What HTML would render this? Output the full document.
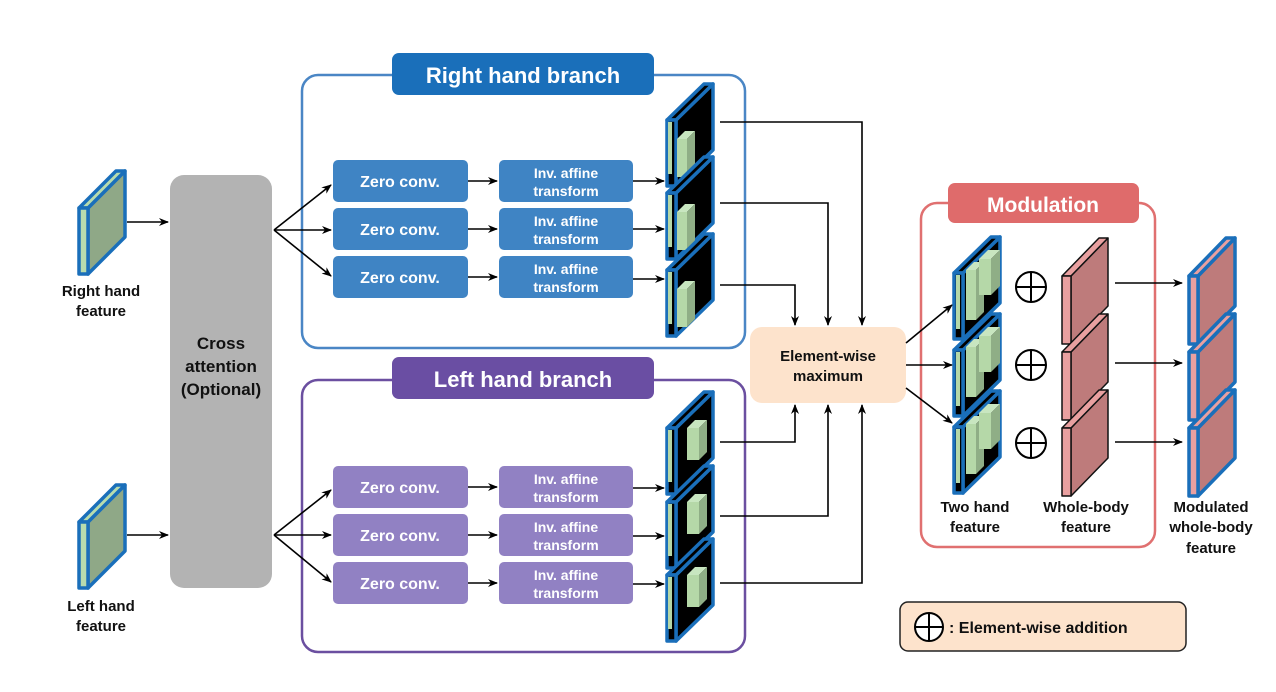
<!DOCTYPE html>
<html><head><meta charset="utf-8"><style>
html,body{margin:0;padding:0;background:#fff;}
svg text{font-family:"Liberation Sans",Arial,sans-serif;font-weight:bold;}
</style></head><body>
<svg id="s" width="1276" height="687" viewBox="0 0 1276 687" xmlns="http://www.w3.org/2000/svg">
<defs>
<marker id="ah" markerWidth="10" markerHeight="8" refX="9" refY="4" orient="auto" markerUnits="userSpaceOnUse">
<path d="M0,0 L10,4 L0,8 L3,4 Z" fill="#000"/></marker>
</defs>
<rect width="1276" height="687" fill="#fff"/>
<!-- cross attention -->
<rect x="170" y="175" width="102" height="413" rx="14" fill="#b3b3b3"/>
<text x="221" y="349" font-size="17" text-anchor="middle" fill="#111">Cross</text>
<text x="221" y="372" font-size="17" text-anchor="middle" fill="#111">attention</text>
<text x="221" y="395" font-size="17" text-anchor="middle" fill="#111">(Optional)</text>
<!-- branch frames -->
<rect x="302" y="75" width="443" height="273" rx="16" fill="none" stroke="#4a86c5" stroke-width="2.5"/>
<rect x="392" y="53" width="262" height="42" rx="7" fill="#1a6fba"/>
<text x="523" y="83" font-size="22" text-anchor="middle" fill="#fff">Right hand branch</text>
<rect x="302" y="380" width="443" height="272" rx="16" fill="none" stroke="#6b4fa0" stroke-width="2.5"/>
<rect x="392" y="357" width="262" height="42" rx="7" fill="#6a4ea3"/>
<text x="523" y="387" font-size="22" text-anchor="middle" fill="#fff">Left hand branch</text>
<!-- zero conv / inv affine -->
<g font-size="16" fill="#fff" text-anchor="middle">
<rect x="333" y="160" width="135" height="42" rx="5" fill="#3f84c4"/><text x="400" y="187">Zero conv.</text>
<rect x="333" y="208" width="135" height="42" rx="5" fill="#3f84c4"/><text x="400" y="235">Zero conv.</text>
<rect x="333" y="256" width="135" height="42" rx="5" fill="#3f84c4"/><text x="400" y="283">Zero conv.</text>
<rect x="333" y="466" width="135" height="42" rx="5" fill="#9181c3"/><text x="400" y="493">Zero conv.</text>
<rect x="333" y="514" width="135" height="42" rx="5" fill="#9181c3"/><text x="400" y="541">Zero conv.</text>
<rect x="333" y="562" width="135" height="42" rx="5" fill="#9181c3"/><text x="400" y="589">Zero conv.</text>
</g>
<g font-size="14" fill="#fff" text-anchor="middle">
<rect x="499" y="160" width="134" height="42" rx="5" fill="#3f84c4"/><text x="566" y="178">Inv. affine</text><text x="566" y="196">transform</text>
<rect x="499" y="208" width="134" height="42" rx="5" fill="#3f84c4"/><text x="566" y="226">Inv. affine</text><text x="566" y="244">transform</text>
<rect x="499" y="256" width="134" height="42" rx="5" fill="#3f84c4"/><text x="566" y="274">Inv. affine</text><text x="566" y="292">transform</text>
<rect x="499" y="466" width="134" height="42" rx="5" fill="#9181c3"/><text x="566" y="484">Inv. affine</text><text x="566" y="502">transform</text>
<rect x="499" y="514" width="134" height="42" rx="5" fill="#9181c3"/><text x="566" y="532">Inv. affine</text><text x="566" y="550">transform</text>
<rect x="499" y="562" width="134" height="42" rx="5" fill="#9181c3"/><text x="566" y="580">Inv. affine</text><text x="566" y="598">transform</text>
</g>
<!-- element-wise max -->
<rect x="750" y="327" width="156" height="76" rx="12" fill="#fde3cc"/>
<text x="828" y="361" font-size="15" text-anchor="middle" fill="#111">Element-wise</text>
<text x="828" y="381" font-size="15" text-anchor="middle" fill="#111">maximum</text>
<!-- modulation -->
<rect x="921" y="203" width="234" height="344" rx="16" fill="none" stroke="#e07070" stroke-width="2.5"/>
<rect x="948" y="183" width="191" height="40" rx="7" fill="#df6b6b"/>
<text x="1043" y="212" font-size="21" text-anchor="middle" fill="#fff">Modulation</text>
<!-- legend -->
<rect x="900" y="602" width="286" height="49" rx="8" fill="#fde3cc" stroke="#222" stroke-width="1.5"/>
<circle cx="929" cy="627" r="14" fill="#fff" stroke="#000" stroke-width="2"/>
<path d="M915,627 H943 M929,613 V641" stroke="#000" stroke-width="2"/>
<text x="949" y="633" font-size="16" fill="#111">: Element-wise addition</text>
<!-- labels -->
<g font-size="15" text-anchor="middle" fill="#111">
<text x="101" y="296">Right hand</text><text x="101" y="316">feature</text>
<text x="101" y="611">Left hand</text><text x="101" y="631">feature</text>
<text x="975" y="512">Two hand</text><text x="975" y="532">feature</text>
<text x="1086" y="512">Whole-body</text><text x="1086" y="532">feature</text>
<text x="1211" y="512">Modulated</text><text x="1211" y="532">whole-body</text><text x="1211" y="553">feature</text>
</g>
<g id="shapes"></g>
<g id="arrows" stroke="#000" stroke-width="1.6" fill="none"></g>
</svg>
<script>
var NS="http://www.w3.org/2000/svg";
var G=document.getElementById("shapes"), A=document.getElementById("arrows");
function el(tag,attrs,parent){var e=document.createElementNS(NS,tag);for(var k in attrs)e.setAttribute(k,attrs[k]);(parent||G).appendChild(e);return e;}
function poly(pts,fill,stroke,sw){return el("polygon",{points:pts.map(function(p){return p.join(",")}).join(" "),fill:fill,stroke:stroke,"stroke-width":sw,"stroke-linejoin":"round"});}
// slab: front strip x0..x0+fw, y0..y0+h; depth dx,dy
function slab(x0,y0,fw,h,dx,dy,frontFill,faceFill,topFill,stroke,sw){
  var x1=x0+fw;
  poly([[x1,y0],[x1+dx,y0-dy],[x1+dx,y0+h-dy],[x1,y0+h]],faceFill,stroke,sw);
  poly([[x0,y0],[x0+dx,y0-dy],[x1+dx,y0-dy],[x1,y0]],topFill,stroke,sw);
  poly([[x0,y0],[x1,y0],[x1,y0+h],[x0,y0+h]],frontFill,stroke,sw);
}
function cube(x,y,w,h,d){ // green box
  poly([[x,y],[x+d,y-d],[x+w+d,y-d],[x+w,y]],"#c8e6c0","none",0);
  poly([[x+w,y],[x+w+d,y-d],[x+w+d,y+h-d],[x+w,y+h]],"#8fae86","none",0);
  poly([[x,y],[x+w,y],[x+w,y+h],[x,y+h]],"#b5d8a8","none",0);
}
// input features
slab(79,208,9,66,37,37,"#b8dcae","#8fa887","#b8dcae","#1a6fba",3.5);
slab(79,522,9,66,37,37,"#b8dcae","#8fa887","#b8dcae","#1a6fba",3.5);
// feature maps in branches
function fmap(x0,y0,h,cubes){
  slab(x0,y0,9,h,37,36,"#000","#000","#000","#1a6fba",3.5);
  cubes.forEach(function(c){cube(c[0],c[1],c[2],c[3],c[4]);});
  el("line",{x1:x0+3,y1:y0+2,x2:x0+3,y2:y0+h-12,stroke:"#b5d8a8","stroke-width":4});
}
var rys=[120,193,270],lys=[428,502,575];
rys.forEach(function(y){fmap(667,y,66,[[677,y+19,10,38,8]]);});
lys.forEach(function(y){fmap(667,y,66,[[687,y,12,32,8]]);});
// two-hand feature maps
[273,350,427].forEach(function(y){
  slab(954,y,9,66,37,36,"#000","#000","#000","#1a6fba",3.5);
  cube(966,y-3,10,50,8); cube(979,y-14,12,36,9);
  el("line",{x1:958,y1:y+2,x2:958,y2:y+56,stroke:"#b5d8a8","stroke-width":4});
});
// whole-body pink
[276,352,428].forEach(function(y){
  slab(1062,y,9,68,37,38,"#e9a0a0","#be7b7b","#e9a0a0","#111",1.5);
});
// modulated
[276,352,428].forEach(function(y){
  slab(1189,y,9,68,37,38,"#e9a0a0","#be7b7b","#e9a0a0","#1a6fba",3.5);
});
// plus circles
[287,365,443].forEach(function(y){
  el("circle",{cx:1031,cy:y,r:15,fill:"#fff",stroke:"#000","stroke-width":2});
  el("path",{d:"M1016,"+y+" H1046 M1031,"+(y-15)+" V"+(y+15),stroke:"#000","stroke-width":2});
});
function arr(d){el("path",{d:d,"marker-end":"url(#ah)"},A);}
arr("M127,222 H168"); arr("M127,535 H168");
[185,230,276].forEach(function(y){arr("M274,230 L331,"+y);});
[490,535,582].forEach(function(y){arr("M274,535 L331,"+y);});
[181,229,277,487,535,583].forEach(function(y){arr("M468,"+y+" H497");});
[181,229,279,488,536,584].forEach(function(y){arr("M633,"+y+" H664");});
arr("M720,122 H862 V325"); arr("M720,203 H828 V325"); arr("M720,285 H795 V325");
arr("M720,442 H795 V405"); arr("M720,516 H828 V405"); arr("M720,583 H862 V405");
arr("M906,343 L952,305"); arr("M906,365 H952"); arr("M906,388 L952,423");
[283,363,442].forEach(function(y){arr("M1115,"+y+" H1182");});
</script>
</body></html>
